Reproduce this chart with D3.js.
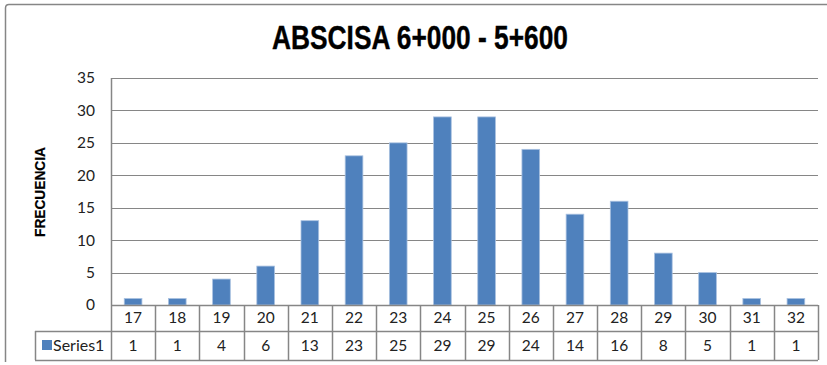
<!DOCTYPE html>
<html>
<head>
<meta charset="utf-8">
<script src="https://cdn.jsdelivr.net/npm/d3@7"></script>
<style>
  html, body { margin: 0; padding: 0; background: #fff; }
  svg { display: block; }
</style>
</head>
<body>
<svg id="chart" width="827" height="365"></svg>
<script>
// Frequency per class for the stretch
const categories = ["17","18","19","20","21","22","23","24","25","26","27","28","29","30","31","32"];
const values = [1, 1, 4, 6, 13, 23, 25, 29, 29, 24, 14, 16, 8, 5, 1, 1];
const yTicks = [0, 5, 10, 15, 20, 25, 30, 35];
const seriesName = "Series1";
const title = "ABSCISA 6+000 - 5+600";
const yLabel = "FRECUENCIA";

const svg = d3.select("#chart");
const W = 827, H = 365;
const plot = { left: 111, right: 818, top: 78, bottom: 305 };
const rowH1 = 26, rowH2 = 29;
const legendLeft = 35;

const grid = "#868686";
const barFill = "#4F81BD";
const bodyFont = "Lato, 'Open Sans', sans-serif";
const boldFont = "'Liberation Sans', Arial, sans-serif";

// chart frame
svg.append("path")
  .attr("d", `M5.5,362 L5.5,8 Q5.5,4.5 9,4.5 L${W},4.5`)
  .attr("fill", "none").attr("stroke", grid).attr("stroke-width", 1.5);

const x = d3.scaleBand().domain(categories).range([plot.left, plot.right]).padding(0);
const y = d3.scaleLinear().domain([0, 35]).range([plot.bottom, plot.top]);

// title (condensed bold)
svg.append("text")
  .attr("x", 272).attr("y", 49)
  .attr("textLength", 296).attr("lengthAdjust", "spacingAndGlyphs")
  .attr("font-family", boldFont).attr("font-weight", "bold")
  .attr("font-size", 33.5).attr("fill", "#000")
  .attr("stroke", "#000").attr("stroke-width", 0.4)
  .text(title);

// gridlines
svg.append("g").selectAll("line")
  .data(yTicks.filter(d => d > 0))
  .join("line")
  .attr("x1", plot.left).attr("x2", plot.right)
  .attr("y1", d => Math.round(y(d)) + 0.5).attr("y2", d => Math.round(y(d)) + 0.5)
  .attr("stroke", grid).attr("stroke-width", 1.2);

// y axis labels
const yAxis = d3.axisLeft(y).tickValues(yTicks).tickSize(0).tickPadding(16);
const gy = svg.append("g").attr("transform", `translate(${plot.left},0)`).call(yAxis);
gy.select(".domain").remove();
gy.selectAll("text")
  .attr("font-family", bodyFont).attr("font-size", 15.5).attr("fill", "#222");

// y axis title (condensed bold)
svg.append("text")
  .attr("transform", `translate(44.5,237) rotate(-90)`)
  .attr("textLength", 90).attr("lengthAdjust", "spacingAndGlyphs")
  .attr("font-family", boldFont).attr("font-weight", "bold")
  .attr("font-size", 15.5).attr("fill", "#000")
  .attr("stroke", "#000").attr("stroke-width", 0.2)
  .text(yLabel);

// bars
const bw = x.bandwidth() * 0.4;
svg.append("g").selectAll("rect")
  .data(values)
  .join("rect")
  .attr("x", (d, i) => x(categories[i]) + (x.bandwidth() - bw) / 2)
  .attr("y", d => y(d))
  .attr("width", bw)
  .attr("height", d => y(0) - y(d))
  .attr("fill", barFill)
  .attr("stroke", "#A9C1E0").attr("stroke-width", 0.8);

// data table
const t = svg.append("g");
const row1Top = plot.bottom, row2Top = plot.bottom + rowH1, tableBottom = row2Top + rowH2;

// horizontal rules
[[plot.left, row1Top], [legendLeft, row2Top], [legendLeft, tableBottom]].forEach(([x0, yy]) => {
  t.append("line")
    .attr("x1", x0).attr("x2", plot.right)
    .attr("y1", yy + 0.5).attr("y2", yy + 0.5)
    .attr("stroke", grid).attr("stroke-width", 1.5);
});
// vertical rules
const colEdges = categories.map(c => x(c)).concat([plot.right]);
colEdges.forEach((xx, i) => {
  t.append("line")
    .attr("x1", Math.round(xx) + 0.5).attr("x2", Math.round(xx) + 0.5)
    .attr("y1", i === 0 ? plot.top : row1Top).attr("y2", tableBottom)
    .attr("stroke", grid).attr("stroke-width", 1.5);
});
t.append("line")
  .attr("x1", legendLeft + 0.5).attr("x2", legendLeft + 0.5)
  .attr("y1", row2Top).attr("y2", tableBottom)
  .attr("stroke", grid).attr("stroke-width", 1.5);

// category row
t.selectAll("text.cat")
  .data(categories)
  .join("text")
  .attr("class", "cat")
  .attr("x", d => x(d) + x.bandwidth() / 2)
  .attr("y", row1Top + rowH1 / 2)
  .attr("dy", "0.35em")
  .attr("text-anchor", "middle")
  .attr("font-family", bodyFont).attr("font-size", 15.5).attr("fill", "#222")
  .text(d => d);

// value row
t.selectAll("text.val")
  .data(values)
  .join("text")
  .attr("class", "val")
  .attr("x", (d, i) => x(categories[i]) + x.bandwidth() / 2)
  .attr("y", row2Top + rowH2 / 2)
  .attr("dy", "0.35em")
  .attr("text-anchor", "middle")
  .attr("font-family", bodyFont).attr("font-size", 15.5).attr("fill", "#222")
  .text(d => d);

// legend key in the table
t.append("rect")
  .attr("x", 42).attr("y", row2Top + 9)
  .attr("width", 10).attr("height", 10)
  .attr("fill", barFill);
t.append("text")
  .attr("x", 53).attr("y", row2Top + rowH2 / 2)
  .attr("dy", "0.35em")
  .attr("font-family", bodyFont).attr("font-size", 16).attr("fill", "#222")
  .text(seriesName);
</script>
</body>
</html>
